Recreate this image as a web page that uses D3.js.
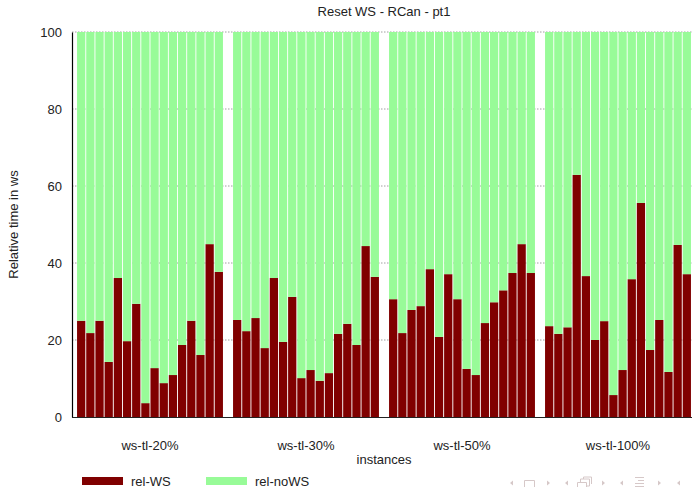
<!DOCTYPE html>
<html>
<head>
<meta charset="utf-8">
<script src="https://cdn.jsdelivr.net/npm/d3@7"></script>
<style>
  body { margin: 0; background: #fff; }
  svg text { font-family: "Liberation Sans", Arial, sans-serif; font-size: 13px; fill: #222; }
</style>
</head>
<body>
<svg id="chart"></svg>
<script>
// Chart data
const groups = ["ws-tl-20%", "ws-tl-30%", "ws-tl-50%", "ws-tl-100%"];
const series = ["rel-WS", "rel-noWS"];
const yTicks = [0, 20, 40, 60, 80, 100];

// rel-WS per instance, one array per group
const relWS20 = [25.0, 21.8, 25.0, 14.3, 36.1, 19.7, 29.4, 3.6, 12.7, 8.8, 10.9, 18.7, 25.0, 16.1, 44.9, 37.7];
const relWS30 = [25.2, 22.3, 25.7, 17.9, 36.1, 19.5, 31.2, 10.1, 12.2, 9.4, 11.4, 21.6, 24.2, 18.7, 44.4, 36.4];
const relWS50 = [30.6, 21.8, 27.8, 28.8, 38.4, 20.8, 37.1, 30.6, 12.5, 10.9, 24.4, 29.8, 32.9, 37.4, 44.9, 37.4];
const relWS100 = [23.6, 21.6, 23.3, 62.9, 36.6, 20.0, 24.9, 5.7, 12.2, 35.8, 55.6, 17.4, 25.2, 11.7, 44.7, 37.1];

// rel-noWS per instance
const relNoWS20 = [75.0, 78.2, 75.0, 85.7, 63.9, 80.3, 70.6, 96.4, 87.3, 91.2, 89.1, 81.3, 75.0, 83.9, 55.1, 62.3];
const relNoWS30 = [74.8, 77.7, 74.3, 82.1, 63.9, 80.5, 68.8, 89.9, 87.8, 90.6, 88.6, 78.4, 75.8, 81.3, 55.6, 63.6];
const relNoWS50 = [69.4, 78.2, 72.2, 71.2, 61.6, 79.2, 62.9, 69.4, 87.5, 89.1, 75.6, 70.2, 67.1, 62.6, 55.1, 62.6];
const relNoWS100 = [76.4, 78.4, 76.7, 37.1, 63.4, 80.0, 75.1, 94.3, 87.8, 64.2, 44.4, 82.6, 74.8, 88.3, 55.3, 62.9];

const relWS = [relWS20, relWS30, relWS50, relWS100];
const relNoWS = [relNoWS20, relNoWS30, relNoWS50, relNoWS100];

const width = 692;
const height = 487;
const colors = { "rel-WS": "#800000", "rel-noWS": "#98fb98" };

const svg = d3.select("#chart")
    .attr("width", width)
    .attr("height", height);

// one slot per bar, plus one empty slot between groups
const perGroup = relWS20.length;
const slots = perGroup + 1;

const xScale = d3.scaleLinear()
    .domain([-1, groups.length * slots - 1])
    .range([72, 696]);
const slotW = xScale(1) - xScale(0);
const barW = slotW * 0.9;

const yScale = d3.scaleLinear()
    .domain([0, 100])
    .range([417, 32]);

// flatten into bar records
let bars = [];
groups.forEach((g, gi) => {
    relWS[gi].forEach((v, i) => {
        bars.push({ group: g, pos: gi * slots + i, ws: v, nows: relNoWS[gi][i] });
    });
});

// grid lines
svg.append("g")
    .selectAll("line")
    .data(yTicks.filter(d => d > 0))
    .enter().append("line")
    .attr("x1", xScale(-1))
    .attr("x2", width)
    .attr("y1", d => yScale(d))
    .attr("y2", d => yScale(d))
    .attr("stroke", "#a0a0a0")
    .attr("stroke-dasharray", "1.5,1.5");

// stacked bars
const chartGroup = svg.append("g");
chartGroup.selectAll("rect.ws")
    .data(bars)
    .enter().append("rect")
    .attr("class", "ws")
    .attr("x", d => xScale(d.pos) - barW / 2)
    .attr("width", barW)
    .attr("y", d => yScale(d.ws))
    .attr("height", d => yScale(0) - yScale(d.ws))
    .attr("fill", colors["rel-WS"]);

chartGroup.selectAll("rect.nows")
    .data(bars)
    .enter().append("rect")
    .attr("class", "nows")
    .attr("x", d => xScale(d.pos) - barW / 2)
    .attr("width", barW)
    .attr("y", d => yScale(d.ws + d.nows))
    .attr("height", d => yScale(d.ws) - yScale(d.ws + d.nows))
    .attr("fill", colors["rel-noWS"]);

// y axis
const yAxis = d3.axisLeft(yScale).tickValues(yTicks).tickSize(0).tickPadding(10);
const gY = svg.append("g")
    .attr("transform", `translate(${xScale(-1)},0)`)
    .call(yAxis);
gY.select(".domain").attr("stroke", "#000").attr("stroke-width", 1.2);
gY.selectAll("text").attr("font-size", 13).attr("fill", "#222")
    .attr("font-family", "Liberation Sans, Arial, sans-serif");

// bottom border
svg.append("line")
    .attr("x1", xScale(-1))
    .attr("x2", width)
    .attr("y1", yScale(0) + 0.5)
    .attr("y2", yScale(0) + 0.5)
    .attr("stroke", "#222")
    .attr("stroke-width", 1.2);

// group labels
svg.append("g")
    .selectAll("text")
    .data(groups)
    .enter().append("text")
    .attr("x", (d, i) => xScale(i * slots + (perGroup - 1) / 2))
    .attr("y", 450)
    .attr("text-anchor", "middle")
    .text(d => d);

// titles
svg.append("text")
    .attr("x", 384).attr("y", 16)
    .attr("text-anchor", "middle")
    .text("Reset WS - RCan - pt1");

svg.append("text")
    .attr("x", 384).attr("y", 464)
    .attr("text-anchor", "middle")
    .text("instances");

svg.append("text")
    .attr("transform", `translate(18,${(yScale(0) + yScale(100)) / 2}) rotate(-90)`)
    .attr("text-anchor", "middle")
    .text("Relative time in ws");

// legend
const legend = svg.append("g")
    .selectAll("g")
    .data(series)
    .enter().append("g")
    .attr("transform", (d, i) => `translate(${82 + i * 124},477)`);
legend.append("rect")
    .attr("width", 41).attr("height", 8)
    .attr("fill", d => colors[d]);
legend.append("text")
    .attr("x", 49).attr("y", 9)
    .text(d => d);

// beamer navigation symbols (bottom right)
const nav = svg.append("g").attr("fill", "#d6c8c8").attr("stroke", "#d6c8c8");
const tri = (x, dir) => nav.append("path")
    .attr("stroke", "none")
    .attr("d", dir < 0
        ? `M${x},483 l3,-2.5 l0,5 z`
        : `M${x},480.5 l3,2.5 l-3,2.5 z`);
[[510, -1], [547, 1], [565, -1], [602, 1], [620, -1], [658, 1], [677, -1]].forEach(t => tri(t[0], t[1]));
nav.append("path").attr("fill", "none").attr("stroke-width", 1)
    .attr("d", "M524.5,487 v-6.5 h10 v6.5");
nav.append("path").attr("fill", "none").attr("stroke-width", 1)
    .attr("d", "M577.5,487 v-4.5 h9 v4.5 M580.5,482 v-3 h9 v7 h-3 M583.5,479 v-2 h8 v7");
nav.append("path").attr("fill", "none").attr("stroke-width", 1)
    .attr("d", "M635,477.5 h9 M638,480.5 h6 M635,483.5 h9 M635,486.5 h9");
</script>
</body>
</html>
